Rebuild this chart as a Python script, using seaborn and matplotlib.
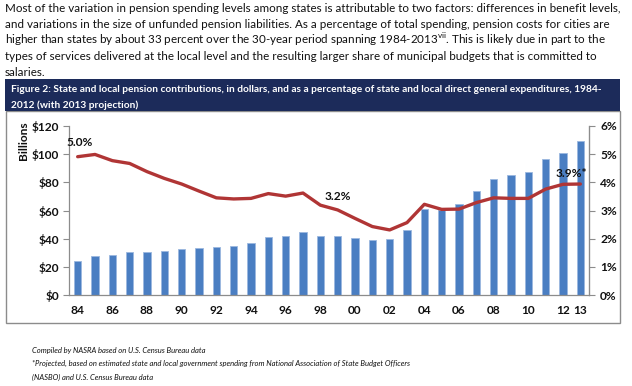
import matplotlib
matplotlib.use('Agg')
import matplotlib.pyplot as plt
from matplotlib.patches import Rectangle
import seaborn as sns
import pandas as pd
import numpy as np

# values
years = ['84', '85', '86', '87', '88', '89', '90', '91', '92', '93',
         '94', '95', '96', '97', '98', '99', '00', '01', '02', '03',
         '04', '05', '06', '07', '08', '09', '10', '11', '12', '13']
contrib_billions = [24.3, 27.6, 28.6, 30.5, 30.7, 31.2, 32.6, 33.3, 34.0, 35.0,
                    37.1, 41.1, 41.8, 44.9, 41.8, 41.8, 40.2, 39.0, 39.5, 46.3,
                    61.2, 60.3, 64.5, 74.2, 82.7, 85.0, 87.0, 96.4, 101.1, 109.2]
pct_of_spending = [4.91, 4.99, 4.77, 4.67, 4.38, 4.14, 3.94, 3.69, 3.45, 3.41,
                   3.43, 3.60, 3.51, 3.62, 3.19, 3.02, 2.72, 2.43, 2.31, 2.57,
                   3.22, 3.04, 3.05, 3.28, 3.45, 3.43, 3.43, 3.76, 3.93, 3.94]
shown_year_labels = ['84', '86', '88', '90', '92', '94', '96', '98', '00',
                     '02', '04', '06', '08', '10', '12', '13']
left_ticks = [0, 20, 40, 60, 80, 100, 120]
right_ticks = [0, 1, 2, 3, 4, 5, 6]

body_lines = [
    "Most of the variation in pension spending levels among states is attributable to two factors: differences in benefit levels,",
    "and variations in the size of unfunded pension liabilities. As a percentage of total spending, pension costs for cities are",
    "higher than states by about 33 percent over the 30-year period spanning 1984-2013$^{\\mathrm{vii}}$. This is likely due in part to the",
    "types of services delivered at the local level and the resulting larger share of municipal budgets that is committed to",
    "salaries.",
]
header_lines = [
    "Figure 2: State and local pension contributions, in dollars, and as a percentage of state and local direct general expenditures, 1984-",
    "2012 (with 2013 projection)",
]
notes = ["Compiled by NASRA based on U.S. Census Bureau data",
         "*Projected, based on estimated state and local government spending from National Association of State Budget Officers",
         "(NASBO) and U.S. Census Bureau data"]

sns.set_style('white')
plt.rcParams['font.family'] = ['Lato', 'DejaVu Sans']
plt.rcParams['mathtext.fontset'] = 'custom'
plt.rcParams['mathtext.rm'] = 'Lato'

W, H = 632, 386
fig = plt.figure(figsize=(W / 100, H / 100), dpi=100)


def fx(px):
    return px / W


def fy(py):
    return 1 - py / H


# paragraph above the chart
for i, line in enumerate(body_lines):
    fig.text(fx(5), fy(11.5 + 16 * i), line, ha='left', va='baseline',
             fontsize=8.4, color='#111111')

# chart frame and header
fig.patches.append(Rectangle((fx(6), fy(323)), fx(614), (323 - 111) / H,
                             transform=fig.transFigure, facecolor='white',
                             edgecolor='#8c8c8c', lw=1, zorder=-2))
fig.patches.append(Rectangle((fx(5), fy(111)), fx(615), 32 / H,
                             transform=fig.transFigure, facecolor='#1c2b5a',
                             edgecolor='none', zorder=-1))
for i, line in enumerate(header_lines):
    fig.text(fx(11), fy(92 + 15.5 * i), line, ha='left', va='baseline',
             fontsize=7.3, color='white', fontweight='bold')

df = pd.DataFrame({'year': years, 'billions': contrib_billions,
                   'pct': pct_of_spending, 'pos': np.arange(len(years))})

ax = fig.add_axes([fx(69), fy(295), fx(520), 169 / H])
ax.patch.set_alpha(0)
sns.barplot(data=df, x='year', y='billions', color='#4a7ec2', width=0.42,
            saturation=1, ax=ax, edgecolor='#9bb8df', linewidth=0.6)
ax.set_xlim(-0.5, len(years) - 0.5)
ax.set_ylim(0, 120)
ax.set_yticks(left_ticks)
ax.set_yticklabels(['$' + str(v) for v in left_ticks])
ax.set_xticks([years.index(y) for y in shown_year_labels])
ax.set_xticklabels(shown_year_labels)
ax.set_xticks(np.arange(-0.5, len(years), 1), minor=True)
ax.tick_params(axis='x', which='major', length=0, pad=7)
ax.tick_params(axis='x', which='minor', length=4, color='#8c8c8c', direction='out')
ax.tick_params(axis='y', length=4, color='#8c8c8c', direction='out', pad=3)
for lab in ax.get_xticklabels() + ax.get_yticklabels():
    lab.set_fontweight('bold')
    lab.set_fontsize(8.6)
    lab.set_color('#111111')
ax.set_xlabel('')
ax.set_ylabel('Billions', fontsize=8.6, fontweight='bold', color='#111111')
ax.yaxis.set_label_coords(-0.077, 0.915)
for side in ['top']:
    ax.spines[side].set_visible(False)
for side in ['left', 'bottom', 'right']:
    ax.spines[side].set_color('#8c8c8c')
    ax.spines[side].set_linewidth(0.9)

ax2 = ax.twinx()
sns.lineplot(data=df, x='pos', y='pct', ax=ax2, color='#b03535', lw=2.4)
ax2.set_xlim(-0.5, len(years) - 0.5)
ax2.set_ylim(0, 6)
ax2.set_yticks(right_ticks)
ax2.set_yticklabels([str(v) + '%' for v in right_ticks])
ax2.tick_params(axis='y', length=4, color='#8c8c8c', direction='out', pad=4)
for lab in ax2.get_yticklabels():
    lab.set_fontweight('bold')
    lab.set_fontsize(8.6)
    lab.set_color('#111111')
ax2.set_ylabel('')
ax2.spines['top'].set_visible(False)
ax2.spines['right'].set_color('#8c8c8c')
ax2.spines['left'].set_visible(False)
ax2.spines['bottom'].set_visible(False)

# data labels
ann = dict(fontsize=8.6, fontweight='bold', color='#111111', ha='center', va='center')
ax2.text(0.13, 5.43, '5.0%', **ann)
ax2.text(15.0, 3.48, '3.2%', **ann)
ax2.text(28.5, 4.30, '3.9%*', **ann)

for i, line in enumerate(notes):
    fig.text(fx(32), fy(350 + i * 13.5), line, ha='left', va='center',
             fontsize=5.5, style='italic', color='#111111')

fig.savefig('out.png', dpi=100)
